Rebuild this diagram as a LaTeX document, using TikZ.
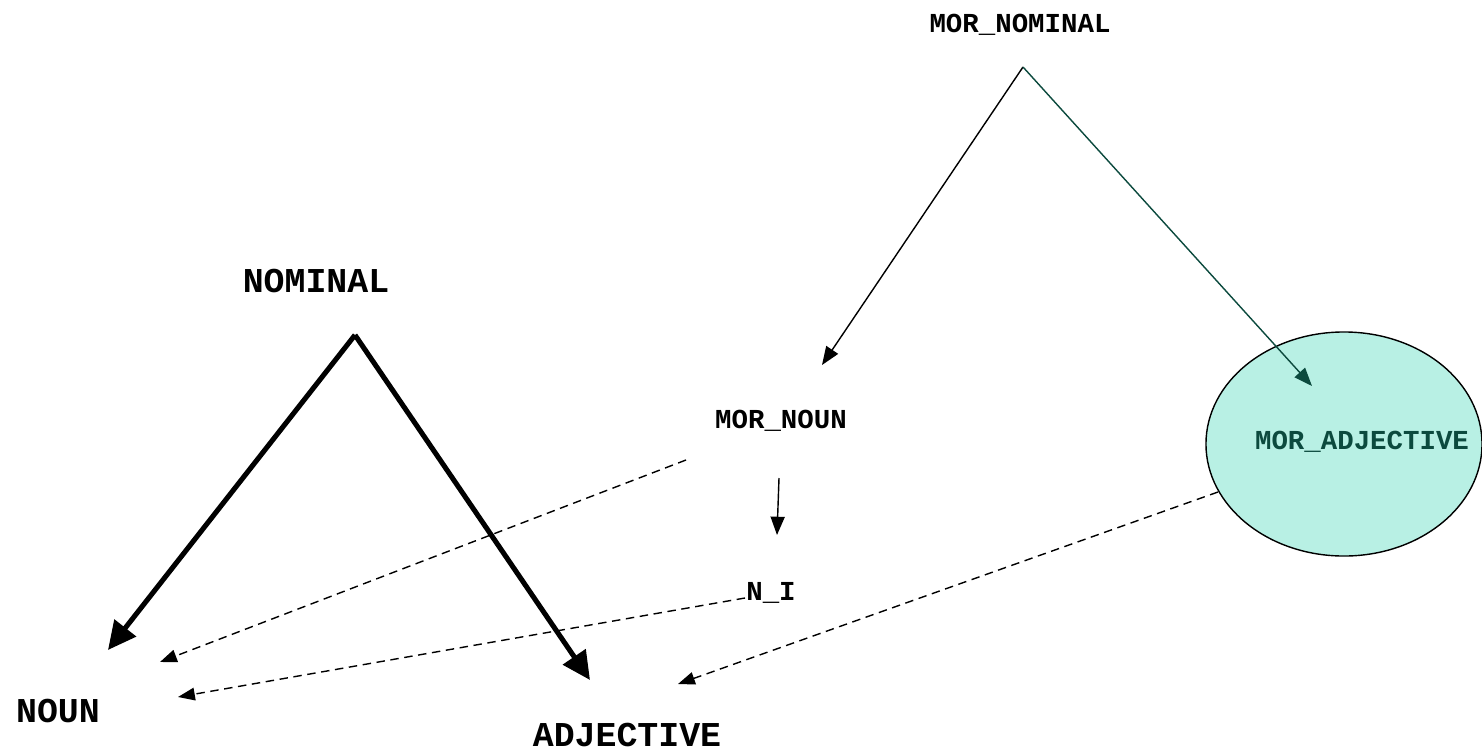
\documentclass[tikz,border=0pt]{standalone}
\usepackage{fontspec}
\setmonofont{Liberation Mono}
\usepackage{tikz}
\usetikzlibrary{arrows.meta,shapes.geometric}
\definecolor{adjA}{RGB}{184,240,228}
\definecolor{adjT}{RGB}{12,74,62}

\begin{document}
\begin{tikzpicture}[
  x=0.025cm, y=-0.025cm,
  lbl/.style={font=\fontsize{19.5}{20}\selectfont\ttfamily\bfseries, inner sep=1pt},
  big/.style={font=\fontsize{24.8}{26}\selectfont\ttfamily\bfseries, inner sep=1pt},
  thin/.style={line width=1pt, -{Triangle[length=13pt, width=10pt]}},
  thick/.style={line width=3.6pt, -{Triangle[length=20pt, width=19pt]}},
  dsh/.style={line width=1pt, dash pattern=on 6pt off 4pt, -{Triangle[length=12pt, width=9pt]}}
]
\useasboundingbox (0,0) rectangle (1482,752);

% MOR tree
\node[ellipse, draw, line width=1pt, fill=adjA, inner sep=0pt,
      minimum width=6.9cm, minimum height=5.6cm] (madjE) at (1344,444) {};
\node[lbl] (mnom) at (1020,25) {MOR\_NOMINAL};
\node[lbl] (mnoun) at (781,421) {MOR\_NOUN};
\node[lbl, text=adjT] (madj) at (1362,442) {MOR\_ADJECTIVE};
\node[lbl] (ni) at (771,593) {N\_I};

% target categories
\node[big] (nom) at (316,281) {NOMINAL};
\node[big] (noun) at (58,711) {NOUN};
\node[big, inner sep=0pt] (adj) at (627,735) {ADJECTIVE};

% arrow ends
\coordinate (mnomA) at (1023,67);
\coordinate (mnounT) at (822,365);
\coordinate (madjT) at (1312,386);
\coordinate (mnounB) at (779,478);
\coordinate (niT) at (777,535);
\coordinate (nomA) at (355,335);
\coordinate (nounT) at (108,650);
\coordinate (adjT) at (590,680);
\coordinate (mnounL) at (686,460);
\coordinate (nounD1) at (160,662);
\coordinate (niL) at (745,598);
\coordinate (nounD2) at (178,697);
\coordinate (madjL) at (1218,492);
\coordinate (adjD) at (678,684);

\draw[thin] (mnomA) -- (mnounT);
\draw[thin, draw=adjT, fill=adjT] (mnomA) -- (madjT);
\draw[thin] (mnounB) -- (niT);
\draw[thick] (nomA) -- (nounT);
\draw[thick] (nomA) -- (adjT);
\draw[dsh] (mnounL) -- (nounD1);
\draw[dsh] (niL) -- (nounD2);
\draw[dsh] (madjL) -- (adjD);

\end{tikzpicture}
\end{document}
